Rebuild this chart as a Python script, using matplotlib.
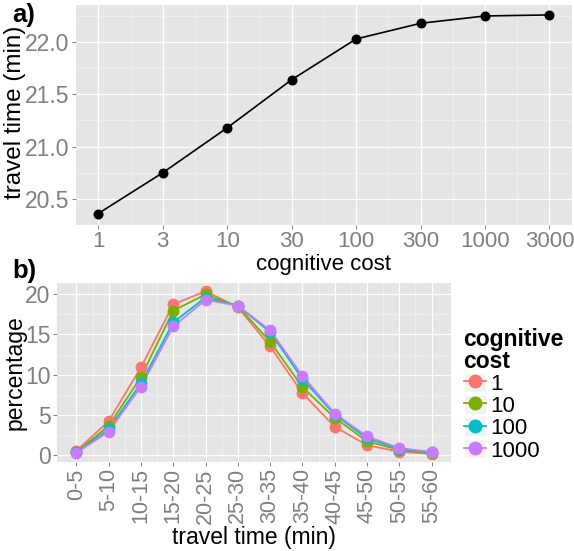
import numpy as np
import matplotlib
matplotlib.use('Agg')
import matplotlib.pyplot as plt
from matplotlib.legend_handler import HandlerLine2D
from matplotlib.lines import Line2D
from matplotlib.patches import Rectangle

plt.rcParams['font.family'] = ['Liberation Sans', 'DejaVu Sans']

# a) mean travel time against cognitive cost
cost_labels = ['1', '3', '10', '30', '100', '300', '1000', '3000']
travel_time = [20.36, 20.75, 21.18, 21.64, 22.03, 22.18, 22.25, 22.26]

# b) travel time distribution per cognitive cost
bins = ['0-5', '5-10', '10-15', '15-20', '20-25', '25-30',
        '30-35', '35-40', '40-45', '45-50', '50-55', '55-60']
series_names = ['1', '10', '100', '1000']
pct_1 = [0.5, 4.2, 10.9, 18.75, 20.4, 18.4, 13.5, 7.7, 3.5, 1.2, 0.4, 0.12]
pct_10 = [0.35, 3.6, 9.7, 17.95, 20.0, 18.5, 14.1, 8.45, 4.6, 1.7, 0.6, 0.2]
pct_100 = [0.3, 3.2, 8.9, 16.5, 19.6, 18.55, 15.3, 9.45, 5.0, 2.05, 0.75, 0.3]
pct_1000 = [0.25, 2.9, 8.5, 16.0, 19.3, 18.6, 15.5, 9.85, 5.15, 2.3, 0.85, 0.37]
colors = ['#F8766D', '#7CAE00', '#00BFC4', '#C77CFF']

BG = '#E5E5E5'
MINOR = '#F2F2F2'
TICK = '#7F7F7F'
FS_TICK = 16.5
FS_TITLE = 16


def ggplot_axes(ax):
    ax.set_facecolor(BG)
    for s in ax.spines.values():
        s.set_visible(False)
    ax.grid(which='major', color='white', lw=0.9)
    ax.grid(which='minor', color=MINOR, lw=0.5)
    ax.set_axisbelow(True)
    ax.tick_params(which='major', labelsize=FS_TICK, labelcolor=TICK, color=TICK,
                   length=3, width=0.7, pad=1.5)
    ax.tick_params(which='minor', length=0)


class KeyHandler(HandlerLine2D):
    # grey key background like ggplot legends
    def create_artists(self, legend, orig_handle, xdescent, ydescent,
                       width, height, fontsize, trans):
        rect = Rectangle((-xdescent, -ydescent), width, height,
                         facecolor=MINOR, edgecolor='white', lw=1, transform=trans)
        arts = super().create_artists(legend, orig_handle, xdescent, ydescent,
                                      width, height, fontsize, trans)
        return [rect] + list(arts)


fig = plt.figure(figsize=(5.74, 5.51), dpi=100)

# ---- panel a
ax1 = fig.add_axes([76 / 574, 1 - 225 / 551, 496 / 574, 220 / 551])
ggplot_axes(ax1)
x1 = np.arange(len(cost_labels))
ax1.plot(x1, travel_time, color='black', lw=1.2, marker='o', ms=6.2, zorder=3)
ax1.set_xlim(-0.346, 7.35)
ax1.set_ylim(20.263, 22.355)
ax1.set_xticks(x1)
ax1.set_xticklabels(cost_labels, fontsize=16)
ax1.set_xticks(x1[:-1] + 0.5, minor=True)
ax1.set_yticks([20.5, 21.0, 21.5, 22.0])
ax1.set_yticklabels(['20.5', '21.0', '21.5', '22.0'])
ax1.set_yticks([20.25, 20.75, 21.25, 21.75, 22.25], minor=True)
ax1.set_xlabel('cognitive cost', fontsize=FS_TITLE)
ax1.xaxis.set_label_coords(0.5, -0.13)
ax1.set_ylabel('travel time (min)', fontsize=FS_TITLE + 1.5)
ax1.yaxis.set_label_coords(-0.1, 0.51)
fig.text(12 / 574, 1 - 3 / 551, 'a)', fontsize=18.5, fontweight='bold', va='top')

# ---- panel b
ax2 = fig.add_axes([57 / 574, 1 - 462 / 551, 394 / 574, 179 / 551])
ggplot_axes(ax2)
x2 = np.arange(len(bins))
all_pct = [pct_1, pct_10, pct_100, pct_1000]
for vals, c in zip(all_pct, colors):
    ax2.plot(x2, vals, color=c, lw=1.3, zorder=3)
for vals, c in zip(all_pct, colors):
    ax2.plot(x2, vals, color=c, lw=0, marker='o', ms=7.5, zorder=4)
ax2.set_xlim(-0.6, 11.6)
ax2.set_ylim(-0.89, 21.41)
ax2.set_xticks(x2)
ax2.set_xticklabels(bins, rotation=90, fontsize=15.5)
ax2.set_xticks(x2[:-1] + 0.5, minor=True)
ax2.set_yticks([0, 5, 10, 15, 20])
ax2.set_yticks([2.5, 7.5, 12.5, 17.5], minor=True)
ax2.set_xlabel('travel time (min)', fontsize=FS_TITLE + 0.5)
ax2.xaxis.set_label_coords(0.5, -0.36)
ax2.set_ylabel('percentage', fontsize=FS_TITLE + 0.5)
ax2.yaxis.set_label_coords(-0.076, 0.5)
fig.text(12 / 574, 1 - 259 / 551, 'b)', fontsize=18.5, fontweight='bold', va='top')

handles = [Line2D([], [], color=c, lw=1.3, marker='o', ms=9) for c in colors]
leg = fig.legend(handles, series_names, title='cognitive\ncost',
                 loc='upper left', bbox_to_anchor=(448 / 574, 1 - 312 / 551),
                 frameon=False, fontsize=16, title_fontsize=16.5,
                 handlelength=1.0, handleheight=0.95, handletextpad=0.2,
                 labelspacing=0.0, borderpad=0.2, alignment='left',
                 handler_map={Line2D: KeyHandler()})
leg.get_title().set_fontweight('bold')
leg.get_title().set_linespacing(0.95)

fig.savefig('out.png', dpi=100)
